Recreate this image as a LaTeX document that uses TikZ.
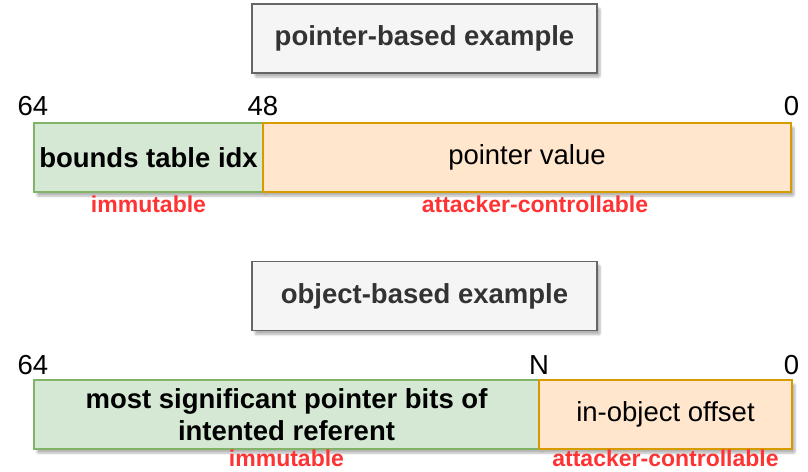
\documentclass[tikz,border=0pt]{standalone}
\usepackage{fontspec}
\setmainfont{Liberation Sans}
\usetikzlibrary{shadows.blur}

\definecolor{titlefill}{HTML}{F5F5F5}
\definecolor{titleline}{HTML}{666666}
\definecolor{titletext}{HTML}{333333}
\definecolor{greenfill}{HTML}{D5E8D4}
\definecolor{greenline}{HTML}{82B366}
\definecolor{orangefill}{HTML}{FFE6CC}
\definecolor{orangeline}{HTML}{D79B00}
\definecolor{warnred}{HTML}{FF3333}

\newcommand{\bigtext}{\fontsize{27.5}{32}\selectfont}
\newcommand{\smalltext}{\fontsize{23}{26}\selectfont\bfseries}

\tikzset{
  x=1pt, y=-1pt,
  boxshadow/.style={blur shadow={shadow xshift=3pt, shadow yshift=-4pt,
      shadow blur steps=6, shadow blur extra rounding=1pt, shadow opacity=30}},
  titlebox/.style={draw=titleline, fill=titlefill, line width=1.8pt,
      minimum width=345pt, minimum height=69pt, inner sep=0pt,
      text=titletext, font=\bigtext\bfseries, boxshadow},
  fixedfield/.style={draw=greenline, fill=greenfill, line width=1.8pt,
      minimum height=69pt, inner sep=0pt, align=center, boxshadow},
  freefield/.style={draw=orangeline, fill=orangefill, line width=1.8pt,
      minimum height=69pt, inner sep=0pt, align=center, boxshadow, font=\bigtext},
  bitnum/.style={font=\bigtext, inner sep=0pt},
  tag/.style={font=\smalltext, text=warnred, inner sep=0pt}
}

\begin{document}
\begin{tikzpicture}
  \useasboundingbox (0,0) rectangle (808,471);

  % ---- pointer-based layout ----
  \node[titlebox] (ptitle) at (424.5,38.5) {pointer-based example};

  \node[fixedfield, minimum width=229pt, font=\bigtext\bfseries] (pidx) at (148.5,157.5) {bounds table idx};
  \node[freefield, minimum width=528pt] (pval) at (527,157.5) {pointer value};

  \node[bitnum] (p64) at (33,106.5) {64};
  \node[bitnum] (p48) at (263,106.5) {48};
  \node[bitnum] (p0)  at (791.5,106.5) {0};

  \node[tag] (pimm)  at (148.5,204.5) {immutable};
  \node[tag] (pctrl) at (535,204.5) {attacker-controllable};

  % ---- object-based layout ----
  \node[titlebox] (otitle) at (424.5,296) {object-based example};

  \node[fixedfield, minimum width=505pt, font=\bigtext\bfseries] (obits) at (286.5,414.5)
       {most significant pointer bits of\\intented referent};
  \node[freefield, minimum width=253pt] (ooff) at (665.5,414.5) {in-object offset};

  \node[bitnum] (o64) at (33,365) {64};
  \node[bitnum] (oN)  at (539,365) {N};
  \node[bitnum] (o0)  at (791.5,365) {0};

  \node[tag] (oimm)  at (286.5,458.5) {immutable};
  \node[tag] (octrl) at (665.5,458.5) {attacker-controllable};
\end{tikzpicture}
\end{document}
